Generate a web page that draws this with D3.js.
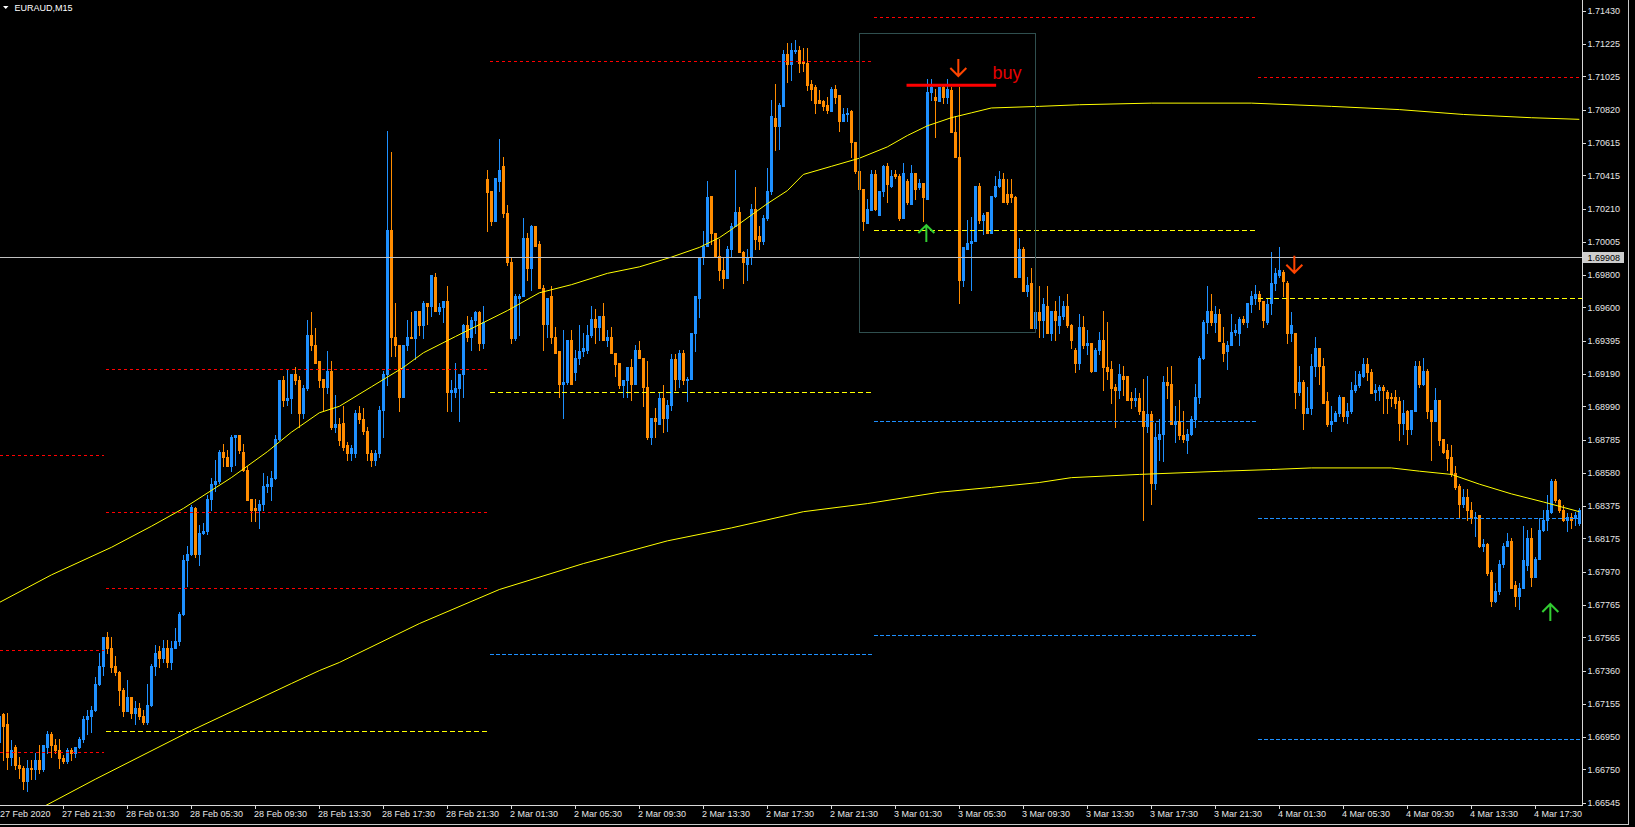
<!DOCTYPE html>
<html><head><meta charset="utf-8">
<script src="https://cdn.jsdelivr.net/npm/d3@7"></script>
<style>
html,body{margin:0;padding:0;background:#000;overflow:hidden}
svg{display:block}
text{font-family:"Liberation Sans",Arial,sans-serif}
</style>
</head><body>
<svg id="chart" width="1635" height="827"></svg>
<script>
// ---------------- DATA (EURAUD, M15) ----------------
const symbolTitle = "EURAUD,M15";
const firstDateLabel = "27 Feb 2020";

const opens = [
1.6692,1.6709,1.6703,1.6683,1.6689,1.6678,1.6676,1.6668,1.6676,1.6675,
1.6681,1.6675,1.6689,1.6697,1.6690,1.6687,1.6682,1.6680,1.6687,1.6685,
1.6689,1.6694,1.6706,1.6708,1.6712,1.6728,1.6739,1.6757,1.6750,1.6739,
1.6735,1.6724,1.6711,1.6720,1.6710,1.6713,1.6708,1.6704,1.6715,1.6739,
1.6748,1.6744,1.6750,1.6741,1.6750,1.6754,1.6771,1.6804,1.6808,1.6836,
1.6808,1.6821,1.6822,1.6842,1.6851,1.6853,1.6871,1.6868,1.6862,1.6880,
1.6881,1.6871,1.6860,1.6842,1.6836,1.6835,1.6839,1.6850,1.6850,1.6855,
1.6879,1.6915,1.6903,1.6904,1.6919,1.6915,1.6895,1.6910,1.6943,1.6937,
1.6927,1.6916,1.6911,1.6921,1.6886,1.6888,1.6889,1.6875,1.6870,1.6870,
1.6895,1.6891,1.6884,1.6870,1.6866,1.6870,1.6897,1.6919,1.7008,1.6942,
1.6937,1.6905,1.6937,1.6942,1.6941,1.6958,1.6949,1.6963,1.6961,1.6979,
1.6958,1.6960,1.6964,1.6908,1.6908,1.6910,1.6919,1.6949,1.6942,1.6952,
1.6957,1.6938,1.7039,1.7032,1.7013,1.7038,1.7047,1.7018,1.6988,1.6941,
1.6966,1.6967,1.7003,1.6984,1.7010,1.6999,1.6972,1.6950,1.6967,1.6942,
1.6933,1.6913,1.6914,1.6940,1.6920,1.6929,1.6933,1.6934,1.6943,1.6953,
1.6948,1.6955,1.6940,1.6942,1.6932,1.6926,1.6912,1.6915,1.6923,1.6913,
1.6934,1.6929,1.6911,1.6880,1.6892,1.6888,1.6904,1.6892,1.6900,1.6928,
1.6916,1.6932,1.6915,1.6916,1.6944,1.6966,1.6991,1.6998,1.7029,1.7006,
1.6992,1.6983,1.6978,1.6996,1.7010,1.7019,1.6994,1.6987,1.6991,1.7021,
1.7004,1.7001,1.7015,1.7032,1.7077,1.7072,1.7084,1.7116,1.7110,1.7118,
1.7119,1.7112,1.7111,1.7098,1.7096,1.7088,1.7087,1.7085,1.7081,1.7095,
1.7091,1.7075,1.7079,1.7081,1.7062,1.7044,1.7033,1.7012,1.7020,1.7042,
1.7017,1.7032,1.7047,1.7035,1.7042,1.7041,1.7015,1.7038,1.7024,1.7043,
1.7034,1.7037,1.7027,1.7093,1.7090,1.7087,1.7096,1.7090,1.7094,1.7068,
1.7053,1.6977,1.6996,1.7000,1.7001,1.7035,1.7014,1.7019,1.7006,1.7029,
1.7035,1.7039,1.7030,1.7030,1.7028,1.6979,1.6996,1.6970,1.6975,1.6947,
1.6957,1.6952,1.6961,1.6944,1.6958,1.6949,1.6955,1.6961,1.6949,1.6934,
1.6926,1.6948,1.6937,1.6938,1.6921,1.6934,1.6940,1.6923,1.6922,1.6911,
1.6909,1.6918,1.6918,1.6904,1.6903,1.6904,1.6896,1.6887,1.6894,1.6852,
1.6879,1.6882,1.6914,1.6913,1.6888,1.6890,1.6881,1.6878,1.6882,1.6891,
1.6905,1.6929,1.6951,1.6958,1.6951,1.6956,1.6938,1.6933,1.6937,1.6945,
1.6944,1.6953,1.6951,1.6962,1.6966,1.6968,1.6964,1.6951,1.6963,1.6975,
1.6980,1.6982,1.6975,1.6944,1.6944,1.6908,1.6914,1.6895,1.6898,1.6924,
1.6935,1.6924,1.6902,1.6888,1.6890,1.6895,1.6905,1.6893,1.6896,1.6909,
1.6912,1.6918,1.6925,1.6920,1.6908,1.6909,1.6911,1.6908,1.6905,1.6905,
1.6902,1.6889,1.6896,1.6885,1.6896,1.6924,1.6913,1.6921,1.6897,1.6890,
1.6903,1.6879,1.6872,1.6868,1.6858,1.6850,1.6839,1.6843,1.6835,1.6830,
1.6832,1.6813,1.6814,1.6797,1.6779,1.6785,1.6802,1.6813,1.6816,1.6789,
1.6782,1.6787,1.6801,1.6818,1.6794,1.6805,1.6823,1.6829,1.6834,1.6853,
1.6841,1.6835,1.6829,1.6831,1.6830,1.6827];

const highs = [
1.6712,1.6710,1.6710,1.6693,1.6690,1.6683,1.6677,1.6681,1.6681,1.6685,
1.6690,1.6690,1.6699,1.6698,1.6694,1.6694,1.6684,1.6688,1.6688,1.6689,
1.6695,1.6708,1.6712,1.6714,1.6732,1.6747,1.6757,1.6760,1.6757,1.6745,
1.6736,1.6725,1.6730,1.6720,1.6717,1.6716,1.6712,1.6728,1.6740,1.6752,
1.6751,1.6755,1.6755,1.6754,1.6762,1.6772,1.6807,1.6813,1.6838,1.6837,
1.6826,1.6827,1.6844,1.6855,1.6866,1.6872,1.6876,1.6872,1.6881,1.6881,
1.6881,1.6876,1.6862,1.6842,1.6842,1.6841,1.6858,1.6856,1.6859,1.6881,
1.6915,1.6918,1.6922,1.6919,1.6923,1.6918,1.6912,1.6952,1.6957,1.6947,
1.6927,1.6916,1.6933,1.6927,1.6906,1.6892,1.6899,1.6877,1.6875,1.6897,
1.6899,1.6898,1.6886,1.6872,1.6872,1.6899,1.6921,1.7069,1.7056,1.6963,
1.6937,1.6937,1.6952,1.6957,1.6958,1.6958,1.6964,1.6963,1.6980,1.6981,
1.6963,1.6964,1.6973,1.6915,1.6926,1.6919,1.6950,1.6955,1.6954,1.6958,
1.6958,1.6961,1.7045,1.7032,1.7040,1.7064,1.7053,1.7023,1.6991,1.6968,
1.6968,1.7015,1.7006,1.7011,1.7010,1.7001,1.6974,1.6966,1.6973,1.6948,
1.6933,1.6946,1.6940,1.6946,1.6934,1.6949,1.6944,1.6949,1.6961,1.6959,
1.6955,1.6963,1.6946,1.6948,1.6932,1.6926,1.6915,1.6923,1.6928,1.6937,
1.6939,1.6929,1.6927,1.6892,1.6898,1.6907,1.6912,1.6903,1.6931,1.6931,
1.6934,1.6934,1.6917,1.6944,1.6967,1.6991,1.7007,1.7038,1.7029,1.7006,
1.7002,1.6991,1.6998,1.7012,1.7045,1.7022,1.6995,1.6996,1.7024,1.7034,
1.7010,1.7017,1.7046,1.7088,1.7098,1.7086,1.7119,1.7123,1.7123,1.7125,
1.7121,1.7120,1.7120,1.7100,1.7097,1.7094,1.7088,1.7090,1.7096,1.7097,
1.7091,1.7083,1.7083,1.7082,1.7062,1.7046,1.7033,1.7027,1.7045,1.7045,
1.7032,1.7048,1.7049,1.7045,1.7045,1.7042,1.7049,1.7039,1.7048,1.7043,
1.7039,1.7037,1.7101,1.7101,1.7095,1.7096,1.7098,1.7101,1.7096,1.7078,
1.7096,1.6997,1.7014,1.7016,1.7035,1.7037,1.7018,1.7019,1.7029,1.7041,
1.7044,1.7043,1.7039,1.7039,1.7029,1.7003,1.6997,1.6979,1.6984,1.6967,
1.6973,1.6966,1.6973,1.6958,1.6964,1.6967,1.6964,1.6968,1.6950,1.6935,
1.6956,1.6955,1.6946,1.6938,1.6935,1.6945,1.6958,1.6951,1.6927,1.6913,
1.6925,1.6924,1.6918,1.6908,1.6910,1.6907,1.6916,1.6918,1.6896,1.6889,
1.6891,1.6918,1.6923,1.6924,1.6899,1.6903,1.6896,1.6885,1.6893,1.6913,
1.6930,1.6952,1.6973,1.6968,1.6961,1.6959,1.6948,1.6939,1.6956,1.6950,
1.6954,1.6955,1.6963,1.6970,1.6974,1.6970,1.6964,1.6965,1.6994,1.6984,
1.6997,1.6983,1.6976,1.6957,1.6944,1.6924,1.6915,1.6911,1.6931,1.6942,
1.6935,1.6929,1.6908,1.6899,1.6896,1.6906,1.6905,1.6901,1.6914,1.6921,
1.6921,1.6929,1.6929,1.6922,1.6913,1.6912,1.6912,1.6909,1.6907,1.6909,
1.6905,1.6903,1.6897,1.6897,1.6927,1.6927,1.6929,1.6922,1.6897,1.6910,
1.6903,1.6879,1.6876,1.6875,1.6862,1.6851,1.6848,1.6848,1.6840,1.6834,
1.6832,1.6817,1.6815,1.6798,1.6790,1.6804,1.6815,1.6821,1.6818,1.6791,
1.6790,1.6825,1.6823,1.6824,1.6806,1.6830,1.6835,1.6844,1.6854,1.6854,
1.6842,1.6838,1.6833,1.6833,1.6834,1.6836];

const lows = [
1.6686,1.6681,1.6675,1.6678,1.6675,1.6670,1.6663,1.6662,1.6669,1.6669,
1.6673,1.6674,1.6685,1.6683,1.6685,1.6676,1.6679,1.6679,1.6681,1.6683,
1.6688,1.6692,1.6697,1.6698,1.6711,1.6727,1.6733,1.6747,1.6735,1.6733,
1.6715,1.6708,1.6711,1.6707,1.6703,1.6706,1.6703,1.6703,1.6714,1.6733,
1.6738,1.6741,1.6738,1.6737,1.6750,1.6752,1.6770,1.6788,1.6807,1.6806,
1.6801,1.6820,1.6820,1.6835,1.6847,1.6852,1.6862,1.6862,1.6859,1.6863,
1.6870,1.6859,1.6841,1.6828,1.6828,1.6824,1.6835,1.6846,1.6841,1.6854,
1.6878,1.6899,1.6900,1.6895,1.6913,1.6886,1.6892,1.6909,1.6934,1.6926,
1.6911,1.6897,1.6907,1.6885,1.6883,1.6875,1.6872,1.6866,1.6866,1.6868,
1.6889,1.6882,1.6866,1.6862,1.6863,1.6868,1.6880,1.6912,1.6930,1.6930,
1.6896,1.6905,1.6934,1.6941,1.6928,1.6943,1.6941,1.6950,1.6955,1.6958,
1.6956,1.6951,1.6896,1.6896,1.6905,1.6890,1.6905,1.6939,1.6934,1.6944,
1.6934,1.6935,1.7007,1.7011,1.7013,1.7032,1.7016,1.6986,1.6938,1.6940,
1.6943,1.6967,1.6977,1.6971,1.6998,1.6972,1.6934,1.6942,1.6938,1.6932,
1.6905,1.6892,1.6913,1.6913,1.6915,1.6925,1.6930,1.6932,1.6942,1.6938,
1.6940,1.6940,1.6936,1.6932,1.6918,1.6910,1.6905,1.6905,1.6903,1.6913,
1.6929,1.6899,1.6879,1.6876,1.6880,1.6888,1.6883,1.6884,1.6897,1.6909,
1.6911,1.6913,1.6902,1.6916,1.6933,1.6954,1.6987,1.6998,1.6999,1.6992,
1.6977,1.6972,1.6978,1.6991,1.7010,1.6994,1.6975,1.6977,1.6987,1.6996,
1.6996,1.6999,1.7014,1.7030,1.7057,1.7058,1.7084,1.7099,1.7100,1.7117,
1.7105,1.7106,1.7094,1.7088,1.7080,1.7086,1.7082,1.7080,1.7081,1.7086,
1.7069,1.7075,1.7075,1.7053,1.7043,1.7029,1.7008,1.7012,1.7020,1.7020,
1.7017,1.7029,1.7025,1.7034,1.7040,1.7014,1.7015,1.7024,1.7024,1.7027,
1.7033,1.7013,1.7027,1.7088,1.7065,1.7087,1.7086,1.7086,1.7068,1.7053,
1.6963,1.6973,1.6996,1.6971,1.7001,1.7012,1.7005,1.7006,1.7006,1.7028,
1.7034,1.7025,1.7024,1.7025,1.6979,1.6979,1.6970,1.6967,1.6947,1.6947,
1.6942,1.6942,1.6944,1.6940,1.6940,1.6944,1.6953,1.6948,1.6935,1.6920,
1.6922,1.6935,1.6931,1.6920,1.6921,1.6931,1.6909,1.6916,1.6901,1.6886,
1.6904,1.6906,1.6903,1.6898,1.6899,1.6894,1.6829,1.6883,1.6839,1.6848,
1.6866,1.6865,1.6904,1.6888,1.6877,1.6879,1.6877,1.6870,1.6881,1.6886,
1.6901,1.6928,1.6944,1.6949,1.6945,1.6939,1.6927,1.6922,1.6937,1.6943,
1.6937,1.6950,1.6948,1.6957,1.6962,1.6959,1.6948,1.6950,1.6956,1.6971,
1.6979,1.6967,1.6938,1.6939,1.6898,1.6906,1.6885,1.6895,1.6894,1.6918,
1.6913,1.6901,1.6887,1.6884,1.6890,1.6893,1.6890,1.6889,1.6895,1.6908,
1.6911,1.6917,1.6915,1.6907,1.6903,1.6903,1.6895,1.6895,1.6899,1.6898,
1.6878,1.6882,1.6876,1.6882,1.6896,1.6911,1.6912,1.6892,1.6866,1.6890,
1.6875,1.6870,1.6860,1.6856,1.6848,1.6831,1.6837,1.6829,1.6827,1.6819,
1.6812,1.6810,1.6795,1.6776,1.6778,1.6783,1.6800,1.6813,1.6787,1.6776,
1.6774,1.6787,1.6798,1.6788,1.6794,1.6805,1.6822,1.6823,1.6833,1.6840,
1.6834,1.6828,1.6822,1.6824,1.6826,1.6826];

const closes = [
1.6708,1.6702,1.6683,1.6687,1.6678,1.6676,1.6668,1.6676,1.6675,1.6681,
1.6675,1.6690,1.6697,1.6690,1.6687,1.6682,1.6680,1.6687,1.6685,1.6689,
1.6694,1.6706,1.6708,1.6712,1.6728,1.6739,1.6757,1.6750,1.6738,1.6735,
1.6724,1.6711,1.6720,1.6710,1.6713,1.6708,1.6704,1.6715,1.6739,1.6747,
1.6744,1.6750,1.6741,1.6750,1.6754,1.6771,1.6804,1.6808,1.6837,1.6808,
1.6821,1.6822,1.6842,1.6851,1.6853,1.6871,1.6868,1.6862,1.6880,1.6881,
1.6872,1.6860,1.6841,1.6835,1.6835,1.6839,1.6850,1.6851,1.6855,1.6879,
1.6915,1.6903,1.6904,1.6919,1.6915,1.6895,1.6910,1.6943,1.6937,1.6926,
1.6915,1.6911,1.6921,1.6886,1.6888,1.6878,1.6874,1.6870,1.6873,1.6895,
1.6891,1.6884,1.6870,1.6866,1.6870,1.6897,1.6919,1.7008,1.6942,1.6937,
1.6905,1.6937,1.6942,1.6941,1.6958,1.6949,1.6963,1.6961,1.6980,1.6958,
1.6960,1.6964,1.6908,1.6909,1.6910,1.6919,1.6949,1.6942,1.6952,1.6957,
1.6938,1.6951,1.7031,1.7013,1.7040,1.7045,1.7018,1.6988,1.6941,1.6967,
1.6967,1.7003,1.6984,1.7010,1.6998,1.6972,1.6950,1.6966,1.6942,1.6932,
1.6913,1.6914,1.6940,1.6913,1.6929,1.6933,1.6935,1.6943,1.6953,1.6948,
1.6955,1.6940,1.6942,1.6932,1.6925,1.6912,1.6915,1.6923,1.6913,1.6934,
1.6929,1.6911,1.6880,1.6892,1.6890,1.6904,1.6892,1.6900,1.6928,1.6916,
1.6932,1.6915,1.6916,1.6944,1.6967,1.6991,1.6998,1.7028,1.7006,1.6992,
1.6983,1.6978,1.6996,1.7010,1.7019,1.6994,1.6988,1.6991,1.7021,1.7002,
1.7001,1.7015,1.7032,1.7078,1.7072,1.7085,1.7116,1.7110,1.7119,1.7119,
1.7111,1.7111,1.7097,1.7095,1.7086,1.7086,1.7084,1.7082,1.7095,1.7090,
1.7075,1.7079,1.7080,1.7062,1.7044,1.7033,1.7013,1.7021,1.7042,1.7021,
1.7032,1.7047,1.7036,1.7041,1.7041,1.7015,1.7043,1.7025,1.7043,1.7033,
1.7037,1.7028,1.7093,1.7096,1.7088,1.7096,1.7090,1.7095,1.7068,1.7053,
1.6977,1.6997,1.7000,1.7001,1.7035,1.7014,1.7017,1.7006,1.7029,1.7035,
1.7039,1.7025,1.7025,1.7028,1.6979,1.6996,1.6970,1.6974,1.6947,1.6957,
1.6952,1.6962,1.6944,1.6958,1.6952,1.6955,1.6961,1.6949,1.6940,1.6926,
1.6948,1.6937,1.6938,1.6921,1.6934,1.6940,1.6923,1.6921,1.6910,1.6909,
1.6919,1.6916,1.6903,1.6903,1.6904,1.6896,1.6887,1.6894,1.6852,1.6880,
1.6882,1.6914,1.6912,1.6888,1.6890,1.6881,1.6879,1.6882,1.6891,1.6905,
1.6929,1.6951,1.6958,1.6951,1.6956,1.6939,1.6932,1.6937,1.6945,1.6946,
1.6953,1.6951,1.6963,1.6967,1.6968,1.6964,1.6952,1.6962,1.6975,1.6981,
1.6983,1.6976,1.6944,1.6949,1.6908,1.6914,1.6895,1.6898,1.6924,1.6935,
1.6924,1.6901,1.6888,1.6890,1.6895,1.6905,1.6893,1.6896,1.6909,1.6912,
1.6919,1.6925,1.6920,1.6907,1.6909,1.6911,1.6909,1.6904,1.6904,1.6901,
1.6889,1.6895,1.6885,1.6897,1.6924,1.6913,1.6921,1.6896,1.6890,1.6903,
1.6878,1.6871,1.6867,1.6857,1.6849,1.6839,1.6843,1.6835,1.6830,1.6831,
1.6813,1.6814,1.6796,1.6779,1.6785,1.6802,1.6813,1.6816,1.6787,1.6782,
1.6787,1.6804,1.6818,1.6794,1.6805,1.6823,1.6829,1.6835,1.6853,1.6841,
1.6835,1.6829,1.6831,1.6829,1.6832,1.6835];

// price axis labels
const priceTicks = [1.71430,1.71225,1.71025,1.70820,1.70615,1.70415,1.70210,1.70005,1.69800,1.69600,
  1.69395,1.69190,1.68990,1.68785,1.68580,1.68375,1.68175,1.67970,1.67765,1.67565,1.67360,1.67155,
  1.66950,1.66750,1.66545];
// time axis labels (bar number of each labelled bar)
const timeTickBars = [16,32,48,64,80,96,112,128,144,160,176,192,208,224,240,256,272,288,304,320,336,352,368,384];
const timeTickLabels = ["27 Feb 21:30","28 Feb 01:30","28 Feb 05:30","28 Feb 09:30","28 Feb 13:30","28 Feb 17:30",
  "28 Feb 21:30","2 Mar 01:30","2 Mar 05:30","2 Mar 09:30","2 Mar 13:30","2 Mar 17:30","2 Mar 21:30",
  "3 Mar 01:30","3 Mar 05:30","3 Mar 09:30","3 Mar 13:30","3 Mar 17:30","3 Mar 21:30","4 Mar 01:30",
  "4 Mar 05:30","4 Mar 09:30","4 Mar 13:30","4 Mar 17:30"];

// moving averages (values read at sampled bars)
const ma1Bars = [0,13,28,38,46,58,67,73,80,85,93,101,106,114,127,135,143,152,160,168,175,180,183,192,197,201,208,215,222,227,232,238,243,248,260,270,288,313,333,350,366,383,395];
const ma1Values = [1.6778,1.6795,1.6812,1.6825,1.6836,1.6855,1.6871,1.6883,1.6895,1.6899,1.6911,1.6923,1.6932,1.6942,1.6958,1.6969,1.6974,1.6981,1.6985,1.6991,1.6997,1.7003,1.7008,1.7024,1.7032,1.7042,1.7047,1.7052,1.7059,1.7066,1.7072,1.7077,1.7080,1.7083,1.7084,1.7085,1.7086,1.7086,1.7084,1.7082,1.7079,1.7077,1.7076];
const ma2Bars = [11,24,48,73,80,85,105,125,146,167,183,201,217,235,248,260,268,285,306,318,328,348,355,363,370,378,386,395];
const ma2Values = [1.6652,1.6669,1.6699,1.6728,1.6736,1.6741,1.6765,1.6786,1.6802,1.6816,1.6824,1.6834,1.6839,1.6846,1.6849,1.6852,1.6855,1.6857,1.6859,1.6860,1.6861,1.6861,1.6859,1.6857,1.6851,1.6845,1.6840,1.6834];

// daily levels
const dayStartBars = [0,26,122,218,314];
const dayEndBars   = [26,122,218,314,395];
const levelDay   = [0,0,0, 1,1,1,1, 2,2,2, 3,3,3,3, 4,4,4,4];
const levelType  = ["r","r","r", "r","r","r","y", "r","y","b", "r","y","b","b", "r","y","b","b"];
const levelPrice = [1.6869,1.6749,1.6686, 1.6922,1.6834,1.6787,1.6699, 1.7112,1.6908,1.6746,
                    1.7139,1.7008,1.6890,1.6758, 1.7102,1.6966,1.6830,1.6694];

// objects
const markedPrice = 1.69908;
const boxBars = [215,259], boxPrices = [1.7129,1.6945];
const buyLineBars = [226.8,249.2], buyLinePrice = 1.7097;
const buyLabel = "buy", buyLabelBar = 248.3, buyLabelPrice = 1.7101;
const downArrowBars = [240,324], downArrowPrices = [1.71027,1.69814];
const upArrowBars = [232,388], upArrowPrices = [1.70108,1.67771];

// ---------------- DRAWING ----------------
const W = 1635, H = 827, plotRight = 1582, plotBottom = 805;
const C = {bull:"#1e90ff", bear:"#ff8c00", r:"#ff0000", y:"#ffff00", b:"#1e90ff", axis:"#e6e6e6"};
const dash = {r:"3,3", y:"5,3", b:"4,2"};

const svg = d3.select("#chart");
svg.append("rect").attr("width",W).attr("height",H).attr("fill","#000");

const x = d3.scaleLinear().domain([0,395]).range([-0.67,1579.33]);
const y = d3.scaleLinear().domain([1.66531,1.71496]).range([plotBottom,0]);

svg.append("defs").append("clipPath").attr("id","plotClip")
  .append("rect").attr("x",0).attr("y",0).attr("width",plotRight).attr("height",plotBottom);
const plot = svg.append("g").attr("clip-path","url(#plotClip)");

// candles
const bars = d3.range(opens.length).map(i => ({i, o:opens[i], h:highs[i], l:lows[i], c:closes[i]}));
const cg = plot.append("g").attr("shape-rendering","crispEdges");
const cand = cg.selectAll("g").data(bars).join("g")
  .attr("fill", d => d.c >= d.o ? C.bull : C.bear);
cand.append("rect")
  .attr("x", d => Math.floor(x(d.i)))
  .attr("width", 1)
  .attr("y", d => Math.round(y(d.h)))
  .attr("height", d => Math.max(1, Math.round(y(d.l)) - Math.round(y(d.h)) + 1));
cand.append("rect")
  .attr("x", d => Math.floor(x(d.i)) - 1)
  .attr("width", 3)
  .attr("y", d => Math.round(y(Math.max(d.o,d.c))))
  .attr("height", d => Math.max(1, Math.round(y(Math.min(d.o,d.c))) - Math.round(y(Math.max(d.o,d.c))) + 1));

// moving averages
const line = d3.line().x(d => x(d[0])).y(d => y(d[1]));
plot.append("path").datum(d3.zip(ma1Bars, ma1Values)).attr("d", line)
  .attr("fill","none").attr("stroke",C.y).attr("stroke-width",1);
plot.append("path").datum(d3.zip(ma2Bars, ma2Values)).attr("d", line)
  .attr("fill","none").attr("stroke",C.y).attr("stroke-width",1);

// daily levels
const lg = plot.append("g").attr("shape-rendering","crispEdges");
levelPrice.forEach((p, i) => {
  const d = levelDay[i];
  const x1 = d === 0 ? 0 : x(dayStartBars[d]) + 2.5;
  const x2 = d === dayStartBars.length - 1 ? plotRight : x(dayEndBars[d]) + 1;
  const yy = Math.round(y(p)) + 0.5;
  lg.append("line").attr("x1",x1).attr("x2",x2).attr("y1",yy).attr("y2",yy)
    .attr("stroke",C[levelType[i]]).attr("stroke-width",1).attr("stroke-dasharray",dash[levelType[i]]);
});

// marked horizontal line
const my = Math.round(y(markedPrice)) + 0.5;
plot.append("line").attr("x1",0).attr("x2",plotRight).attr("y1",my).attr("y2",my)
  .attr("stroke","#c0c0c0").attr("stroke-width",1).attr("shape-rendering","crispEdges");

// rectangle
const bx1 = Math.round(x(boxBars[0])) + 0.5, bx2 = Math.round(x(boxBars[1])) + 0.5;
const by1 = Math.round(y(boxPrices[0])) + 0.5, by2 = Math.round(y(boxPrices[1])) + 0.5;
plot.append("rect").attr("x",bx1).attr("y",by1).attr("width",bx2-bx1).attr("height",by2-by1)
  .attr("fill","none").attr("stroke","#2f4f4f").attr("stroke-width",1).attr("shape-rendering","crispEdges");

// buy line + label
plot.append("line").attr("x1",x(buyLineBars[0])).attr("x2",x(buyLineBars[1]))
  .attr("y1",y(buyLinePrice)).attr("y2",y(buyLinePrice))
  .attr("stroke","#ff0000").attr("stroke-width",3);
plot.append("text").attr("x",x(buyLabelBar)).attr("y",y(buyLabelPrice))
  .attr("fill","#e60000").attr("font-size","18px").text(buyLabel);

// arrows
downArrowBars.forEach((b, i) => {
  const cx = x(b) - 1, t = y(downArrowPrices[i]);
  plot.append("path")
    .attr("d", `M${cx},${t-17}V${t}M${cx-8},${t-8}L${cx},${t}L${cx+8},${t-8}`)
    .attr("fill","none").attr("stroke","#ff4500").attr("stroke-width",2);
});
upArrowBars.forEach((b, i) => {
  const cx = x(b) - 1, t = y(upArrowPrices[i]);
  plot.append("path")
    .attr("d", `M${cx},${t+17}V${t}M${cx-8},${t+8}L${cx},${t}L${cx+8},${t+8}`)
    .attr("fill","none").attr("stroke","#32cd32").attr("stroke-width",2);
});

// price axis
const ax = svg.append("g");
ax.append("line").attr("x1",plotRight+0.5).attr("x2",plotRight+0.5).attr("y1",0).attr("y2",plotBottom+0.5)
  .attr("stroke","#d8d8d8").attr("shape-rendering","crispEdges");
priceTicks.forEach(p => {
  const ty = y(p);
  ax.append("line").attr("x1",plotRight).attr("x2",plotRight+4)
    .attr("y1",Math.round(ty)+0.5).attr("y2",Math.round(ty)+0.5)
    .attr("stroke","#d8d8d8").attr("shape-rendering","crispEdges");
  ax.append("text").attr("x",plotRight+5.5).attr("y",ty+3.4)
    .attr("fill",C.axis).attr("font-size","9px").text(p.toFixed(5));
});
// marked price label
const mty = y(markedPrice);
ax.append("rect").attr("x",plotRight+1).attr("y",Math.round(mty)-5).attr("width",41).attr("height",11)
  .attr("fill","#cdcdcd");
ax.append("text").attr("x",plotRight+5.5).attr("y",mty+3.4)
  .attr("fill","#000").attr("font-size","9px").text(markedPrice.toFixed(5));

// time axis
const tx = svg.append("g");
tx.append("line").attr("x1",0).attr("x2",plotRight+1).attr("y1",plotBottom+0.5).attr("y2",plotBottom+0.5)
  .attr("stroke","#d8d8d8").attr("shape-rendering","crispEdges");
tx.append("text").attr("x",0).attr("y",817).attr("fill",C.axis).attr("font-size","9px").text(firstDateLabel);
timeTickBars.forEach((b, i) => {
  const px = Math.floor(x(b)) + 0.5;
  tx.append("line").attr("x1",px).attr("x2",px).attr("y1",plotBottom).attr("y2",plotBottom+4)
    .attr("stroke","#d8d8d8").attr("shape-rendering","crispEdges");
  tx.append("text").attr("x",px-1.5).attr("y",817).attr("fill",C.axis).attr("font-size","9px").text(timeTickLabels[i]);
});

// window frame
svg.append("line").attr("x1",1628.5).attr("x2",1628.5).attr("y1",0).attr("y2",825)
  .attr("stroke","#c8c8c8").attr("shape-rendering","crispEdges");
svg.append("line").attr("x1",0).attr("x2",1629).attr("y1",824.5).attr("y2",824.5)
  .attr("stroke","#c8c8c8").attr("shape-rendering","crispEdges");

// title
svg.append("path").attr("d","M3,6L8.5,6L5.75,9Z").attr("fill","#ffffff");
svg.append("text").attr("x",14.5).attr("y",10.5).attr("fill","#ffffff").attr("font-size","9px").text(symbolTitle);
</script>
</body></html>
